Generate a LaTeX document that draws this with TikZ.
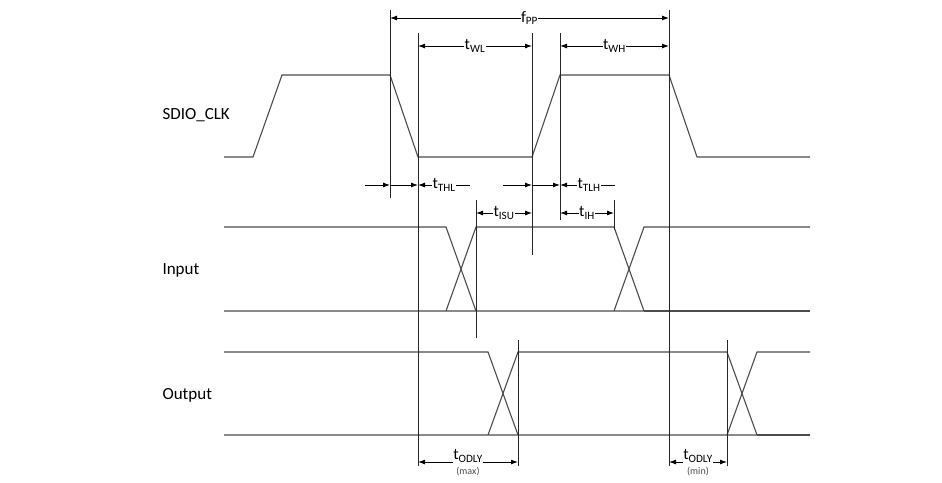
\documentclass[tikz,border=0pt]{standalone}
\usepackage{fontspec}
\setmainfont{Carlito}
\usetikzlibrary{arrows.meta}
\begin{document}
\begin{tikzpicture}[x=1pt,y=-1pt,
  wave/.style={draw=black!70,line width=1.1pt},
  vl/.style={draw=black!85,line width=0.8pt},
  dim/.style={draw=black,line width=0.9pt,-{Latex[length=7pt,width=5pt]}},
  dd/.style={draw=black,line width=0.9pt,{Latex[length=7pt,width=5pt]}-{Latex[length=7pt,width=5pt]}},
  lab/.style={font=\fontsize{16}{16}\selectfont,fill=white,inner sep=0.5pt},
  sm/.style={font=\fontsize{10}{10}\selectfont,inner sep=0pt,text=black!70},
  sig/.style={font=\fontsize{17}{17}\selectfont,anchor=west}]
\useasboundingbox (0,0) rectangle (942,482);
% signal names
\node[sig] (n1) at (159,115) {SDIO\_CLK};
\node[sig] (n2) at (159,270) {Input};
\node[sig] (n3) at (159,395) {Output};
% clock
\draw[wave] (224,157)--(253,157)--(282,75)--(390,75)--(418,157)--(532,157)--(560,75)--(669,75)--(697,157)--(810,157);
% input
\draw[wave] (224,227)--(446,227)--(476,311)--(224,311);
\draw[wave] (446,311)--(476,227)--(614,227)--(644,311)--(476,311);
\draw[wave] (614,311)--(644,227)--(810,227);
\draw[wave] (644,311)--(810,311);
% output
\draw[wave] (224,352)--(488,352)--(518,435)--(224,435);
\draw[wave] (488,435)--(518,352)--(727,352)--(757,435)--(518,435);
\draw[wave] (727,435)--(757,352)--(810,352);
\draw[wave] (757,435)--(810,435);
% verticals
\coordinate (a1) at (390,10); \coordinate (a2) at (390,198);
\coordinate (b1) at (418,33); \coordinate (b2) at (418,466);
\coordinate (c1) at (532,33); \coordinate (c2) at (532,255);
\coordinate (d1) at (560,33); \coordinate (d2) at (560,220);
\coordinate (e1) at (669,10); \coordinate (e2) at (669,466);
\coordinate (f1) at (476,200); \coordinate (f2) at (476,338);
\coordinate (g1) at (614,200); \coordinate (g2) at (614,230);
\coordinate (h1) at (518,340); \coordinate (h2) at (518,466);
\coordinate (k1) at (727,340); \coordinate (k2) at (727,466);
\foreach \p in {a,b,c,d,e,f,g,h,k} \draw[vl] (\p1)--(\p2);
% dimensions
\draw[dd] (390,18)--(669,18) node[lab,midway] (fpp) {f\textsubscript{PP}};
\draw[dd] (418,46)--(532,46) node[lab,midway] (twl) {t\textsubscript{WL}};
\draw[dd] (560,46)--(669,46) node[lab,midway] (twh) {t\textsubscript{WH}};
\draw[dim] (365,185)--(390,185);
\draw[dim] (390,185)--(418,185);
\draw[dim] (470,185)--(418,185);
\node[lab] (thl) at (444,185) {t\textsubscript{THL}};
\draw[dim] (503,185)--(532,185);
\draw[dim] (532,185)--(560,185);
\draw[dim] (615,185)--(560,185);
\node[lab] (tlh) at (589,185) {t\textsubscript{TLH}};
\draw[dd] (476,213)--(532,213) node[lab,midway] (tisu) {t\textsubscript{ISU}};
\draw[dd] (560,213)--(614,213) node[lab,midway] (tih) {t\textsubscript{IH}};
\draw[dd] (418,462)--(518,462);
\node[lab] (to1) at (468,456) {t\textsubscript{ODLY}};
\node[sm] (mx) at (468,472) {(max)};
\draw[dd] (669,462)--(727,462);
\node[lab] (to2) at (698,456) {t\textsubscript{ODLY}};
\node[sm] (mn) at (698,472) {(min)};
\end{tikzpicture}
\end{document}
